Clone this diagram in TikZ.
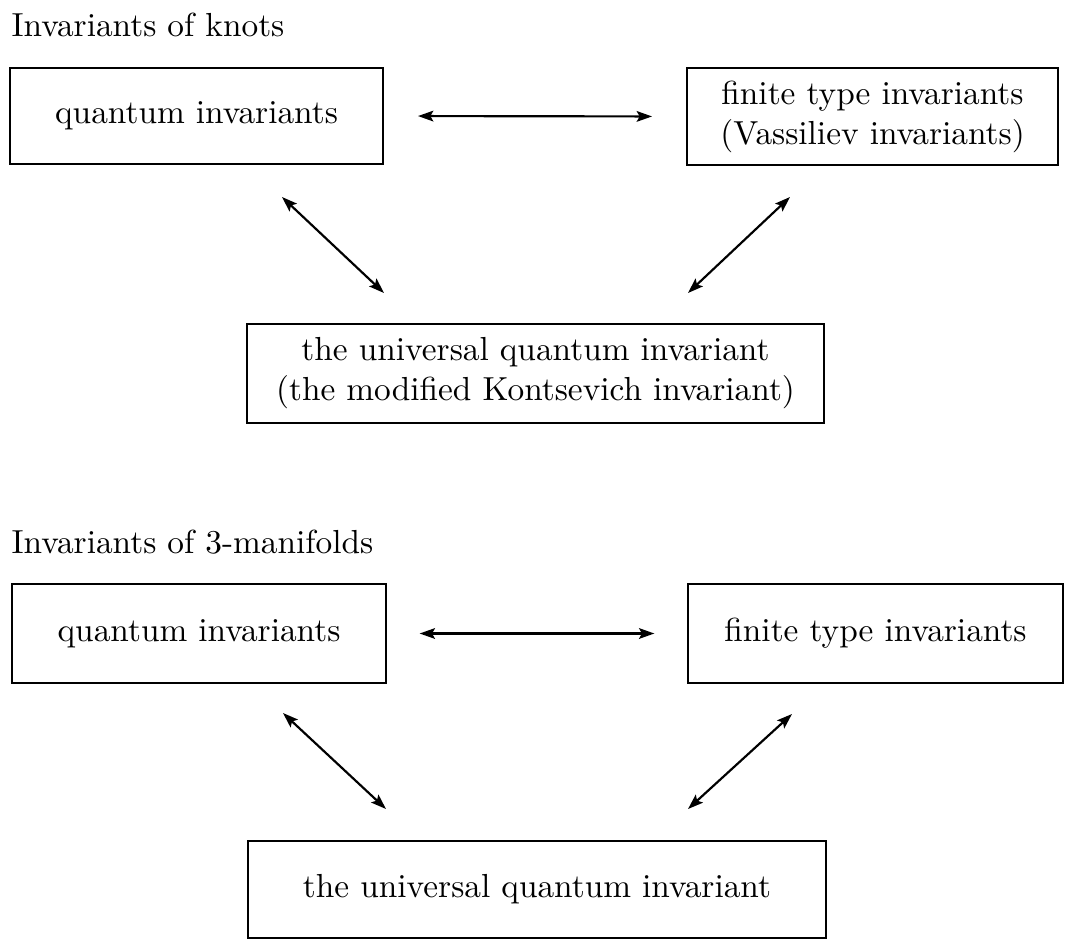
\documentclass[tikz,border=0pt]{standalone}
\usepackage{tikz}
\usepackage{amsmath}
\usetikzlibrary{arrows.meta}
\usetikzlibrary{calc}

\begin{document}
\begin{tikzpicture}[x=0.3pt,y=-0.3pt,
    invbox/.style={draw, line width=0.6pt, inner sep=0pt, align=center},
    twoway/.style={line width=0.65pt, {Stealth[length=4.6pt,width=3.2pt,inset=0.9pt]}-{Stealth[length=4.6pt,width=3.2pt,inset=0.9pt]}}]
            \useasboundingbox (0,0) rectangle (1065,939);

            % knots
            \node[anchor=base west, inner sep=0pt] (tknots) at (11,36) {Invariants of knots};
            \node[invbox, minimum width=111.9pt, minimum height=28.8pt] (qk) at (196.5,116) {quantum invariants};
            \node[invbox, minimum width=111.3pt, minimum height=29.1pt] (fk) at (872.5,116.5) {finite type invariants\\(Vassiliev invariants)};
            \node[invbox, minimum width=173.1pt, minimum height=29.7pt] (uk) at (535.5,373.5) {the universal quantum invariant\\(the modified Kontsevich invariant)};
            \coordinate (k1) at (282,197);
            \coordinate (k2) at (384,293);
            \coordinate (k3) at (790,197);
            \coordinate (k4) at (688,293);
            \draw[twoway, shorten <=10.2pt, shorten >=10.2pt] (qk.east) -- (fk.west);
            \draw[twoway] (k1) -- (k2);
            \draw[twoway] (k3) -- (k4);

            % 3-manifolds
            \node[anchor=base west, inner sep=0pt] (tman) at (11,553) {Invariants of 3-manifolds};
            \node[invbox, minimum width=112.2pt, minimum height=29.7pt] (qm) at (199,633.5) {quantum invariants};
            \node[invbox, minimum width=112.5pt, minimum height=29.7pt] (fm) at (875.5,633.5) {finite type invariants};
            \node[invbox, minimum width=173.4pt, minimum height=29.1pt] (um) at (537,889.5) {the universal quantum invariant};
            \coordinate (m1) at (283,713);
            \coordinate (m2) at (386,809);
            \coordinate (m3) at (792,714);
            \coordinate (m4) at (688,809);
            \draw[twoway, shorten <=9.8pt, shorten >=9.8pt] (qm.east) -- (fm.west);
            \draw[twoway] (m1) -- (m2);
            \draw[twoway] (m3) -- (m4);
        \end{tikzpicture}
\end{document}
